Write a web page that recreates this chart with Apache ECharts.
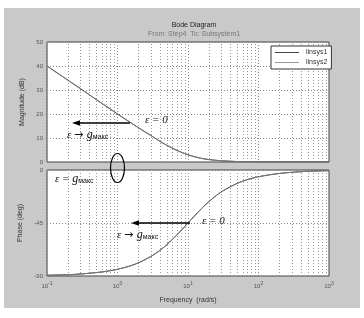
<!DOCTYPE html>
<html>
<head>
<meta charset="utf-8">
<script src="https://cdn.jsdelivr.net/npm/echarts@6/dist/echarts.min.js"></script>
<style>
  html, body { margin: 0; padding: 0; background: #fff; }
  #chart { width: 364px; height: 318px; }
</style>
</head>
<body>
<div id="chart"></div>
<script>
  // частоты (rad/s) и значения
  var freqs = [0.1, 0.15, 0.2, 0.3, 0.5, 0.7, 1, 1.5, 2, 3, 4, 5, 7, 10, 15, 20, 30, 50, 70, 100, 200, 500, 1000];
  var magnitude = [40, 36.5, 34, 30.5, 26, 23.1, 20, 16.6, 14.2, 11, 8.6, 7, 4.8, 3, 1.6, 1, 0.5, 0.2, 0.1, 0.04, 0.01, 0, 0];
  var phase = [-89.4, -89.1, -88.9, -88.3, -87.1, -86, -84.3, -81.5, -78.7, -73.3, -68.2, -63.4, -55, -45, -33.7, -26.6, -18.4, -11.3, -8.1, -5.7, -2.9, -1.1, -0.6];
  var seriesNames = ['linsys1', 'linsys2'];
  var magTicks = [0, 10, 20, 30, 40, 50];
  var phaseTicks = [-90, -45, 0];
  var minorFreqs = [0.2, 0.3, 0.4, 0.5, 0.6, 0.7, 0.8, 0.9, 2, 3, 4, 5, 6, 7, 8, 9,
    20, 30, 40, 50, 60, 70, 80, 90, 200, 300, 400, 500, 600, 700, 800, 900];

  function pairs(ys) {
    var out = [];
    for (var i = 0; i < freqs.length; i++) {
      out.push([freqs[i], ys[i]]);
    }
    return out;
  }

  var gridLine = { show: true, lineStyle: { color: '#888', type: [1, 2], width: 1 } };
  var minorLines = {
    silent: true,
    symbol: 'none',
    z: 1,
    label: { show: false },
    lineStyle: { color: '#999', type: [1, 2], width: 1 },
    data: minorFreqs.map(function (f) { return { xAxis: f }; })
  };

  var annot = {
    e: { fontSize: 11, fontStyle: 'italic', fontFamily: 'Liberation Serif', fill: '#111' },
    g: { fontSize: 12, fontStyle: 'italic', fontFamily: 'Liberation Serif', fill: '#111' },
    s: { fontSize: 7, fontFamily: 'Liberation Sans', fill: '#111', padding: [5, 0, 0, 0] }
  };

  var chart = echarts.init(document.getElementById('chart'));
  var option = {
    animation: false,
    backgroundColor: '#fff',
    textStyle: { fontFamily: 'Arial, Liberation Sans, sans-serif' },
    title: {
      text: 'Bode Diagram',
      subtext: 'From: Step4  To: Subsystem1',
      left: 189,
      top: 17,
      textAlign: 'center',
      itemGap: 2,
      textStyle: { fontSize: 7, fontWeight: 'normal', color: '#222' },
      subtextStyle: { fontSize: 7, color: '#777' }
    },
    legend: {
      data: seriesNames,
      orient: 'vertical',
      left: 271,
      top: 46,
      z: 50,
      padding: [3, 4, 3, 4],
      itemGap: 3,
      itemWidth: 24,
      itemHeight: 1,
      icon: 'rect',
      backgroundColor: '#fff',
      borderColor: '#333',
      borderWidth: 1,
      textStyle: { fontSize: 7, color: '#333', padding: [0, 0, 0, 2] }
    },
    grid: [
      { left: 47, top: 42, width: 282, height: 120, show: true, backgroundColor: '#fff', borderColor: '#444', borderWidth: 1 },
      { left: 47, top: 170, width: 282, height: 106, show: true, backgroundColor: '#fff', borderColor: '#444', borderWidth: 1 }
    ],
    xAxis: [
      {
        type: 'log', logBase: 10, gridIndex: 0, min: 0.1, max: 1000,
        axisLine: { show: false }, axisTick: { show: false },
        axisLabel: { show: false }, splitLine: gridLine
      },
      {
        type: 'log', logBase: 10, gridIndex: 1, min: 0.1, max: 1000,
        axisLine: { show: false }, axisTick: { show: false },
        splitLine: gridLine,
        name: 'Frequency  (rad/s)', nameLocation: 'middle', nameGap: 21,
        nameTextStyle: { fontSize: 7, color: '#333' },
        axisLabel: {
          margin: 5,
          formatter: function (v) {
            var e = Math.round(Math.log10(v));
            return '{b|10}{s|' + e + '}';
          },
          rich: {
            b: { fontSize: 6, color: '#555' },
            s: { fontSize: 5, color: '#555', padding: [0, 0, 5, 0] }
          }
        }
      }
    ],
    yAxis: [
      {
        type: 'value', gridIndex: 0, min: magTicks[0], max: magTicks[magTicks.length - 1], interval: 10,
        axisLine: { show: false }, axisTick: { show: false },
        axisLabel: { fontSize: 6, color: '#555', margin: 4 },
        splitLine: gridLine,
        name: 'Magnitude (dB)', nameLocation: 'middle', nameGap: 15,
        nameTextStyle: { fontSize: 7, color: '#333' }
      },
      {
        type: 'value', gridIndex: 1, min: phaseTicks[0], max: phaseTicks[phaseTicks.length - 1], interval: 45,
        axisLine: { show: false }, axisTick: { show: false },
        axisLabel: { fontSize: 6, color: '#555', margin: 4 },
        splitLine: gridLine,
        name: 'Phase (deg)', nameLocation: 'middle', nameGap: 17,
        nameTextStyle: { fontSize: 7, color: '#333' }
      }
    ],
    series: [
      {
        name: seriesNames[0], type: 'line', xAxisIndex: 0, yAxisIndex: 0,
        data: pairs(magnitude), showSymbol: false, smooth: 0.3,
        lineStyle: { color: '#444', width: 1 }, itemStyle: { color: '#444' },
        markLine: minorLines
      },
      {
        name: seriesNames[0], type: 'line', xAxisIndex: 1, yAxisIndex: 1,
        data: pairs(phase), showSymbol: false, smooth: 0.3,
        lineStyle: { color: '#444', width: 1 }, itemStyle: { color: '#444' },
        markLine: minorLines
      },
      {
        name: seriesNames[1], type: 'line', xAxisIndex: 0, yAxisIndex: 0,
        data: pairs(magnitude), showSymbol: false, smooth: 0.3,
        lineStyle: { color: '#777', width: 1 }, itemStyle: { color: '#999' }
      },
      {
        name: seriesNames[1], type: 'line', xAxisIndex: 1, yAxisIndex: 1,
        data: pairs(phase), showSymbol: false, smooth: 0.3,
        lineStyle: { color: '#777', width: 1 }, itemStyle: { color: '#999' }
      }
    ],
    graphic: [
      { type: 'rect', z: -10, silent: true, shape: { x: 4, y: 8, width: 356, height: 300 }, style: { fill: '#c9c9c9' } },
      // стрелки
      { type: 'line', z: 100, shape: { x1: 130, y1: 123, x2: 78, y2: 123 }, style: { stroke: '#000', lineWidth: 1.5 } },
      { type: 'polygon', z: 100, shape: { points: [[72, 123], [80, 120.3], [80, 125.7]] }, style: { fill: '#000' } },
      { type: 'line', z: 100, shape: { x1: 190, y1: 223, x2: 137, y2: 223 }, style: { stroke: '#000', lineWidth: 1.5 } },
      { type: 'polygon', z: 100, shape: { points: [[131, 223], [139, 220.3], [139, 225.7]] }, style: { fill: '#000' } },
      // овал
      { type: 'ellipse', z: 100, shape: { cx: 117.5, cy: 168, rx: 7, ry: 14.5 }, style: { fill: 'none', stroke: '#000', lineWidth: 1.2 } },
      // подписи
      {
        type: 'text', z: 100, left: 145, top: 115,
        style: { text: 'ε = 0', font: 'italic 11px "Liberation Serif", serif', fill: '#111' }
      },
      {
        type: 'text', z: 100, left: 67, top: 129,
        style: { text: '{e|ε }{a|→ }{g|g}{s|макс}', rich: Object.assign({ a: { fontSize: 11, fontFamily: 'DejaVu Sans', fill: '#111' } }, annot) }
      },
      {
        type: 'text', z: 100, left: 55, top: 173,
        style: { text: '{e|ε = }{g|g}{s|макс}', rich: annot }
      },
      {
        type: 'text', z: 100, left: 202, top: 216,
        style: { text: 'ε = 0', font: 'italic 11px "Liberation Serif", serif', fill: '#111' }
      },
      {
        type: 'text', z: 100, left: 117, top: 229,
        style: { text: '{e|ε }{a|→ }{g|g}{s|макс}', rich: Object.assign({ a: { fontSize: 11, fontFamily: 'DejaVu Sans', fill: '#111' } }, annot) }
      }
    ]
  };
  chart.setOption(option);
</script>
</body>
</html>
